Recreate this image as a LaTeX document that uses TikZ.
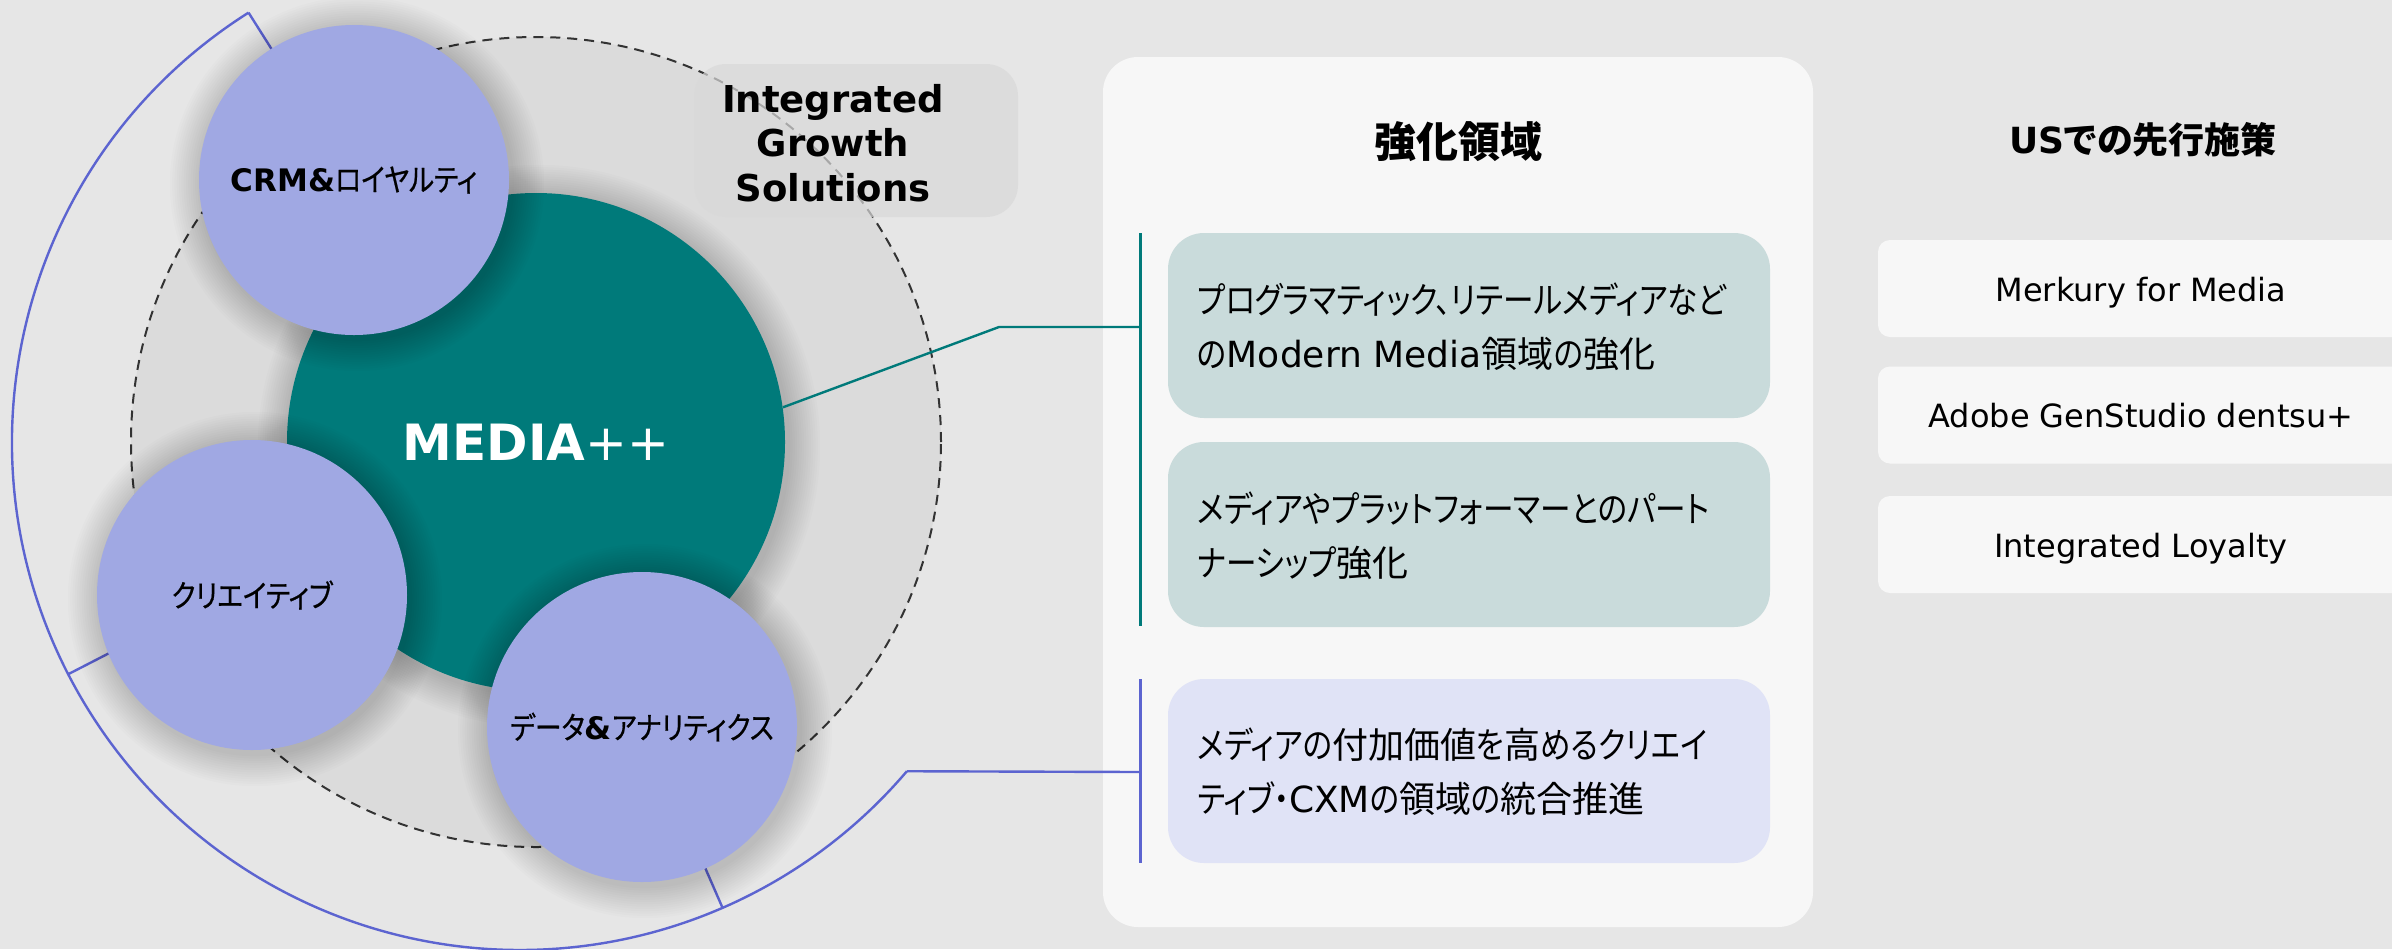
\documentclass[tikz,border=0pt]{standalone}
\usepackage{fontspec}
\usepackage{graphicx}
\setmainfont{DejaVu Sans}
\newfontfamily\jp[RawFeature=+palt]{Noto Sans CJK JP}
\newfontfamily\jk[RawFeature=+palt,FakeStretch=0.85]{Noto Sans CJK JP}
\newfontfamily\jc[RawFeature=+palt,FakeStretch=0.86,FakeBold=0.6]{Noto Sans CJK JP}
\usetikzlibrary{calc}
\definecolor{bgc}{HTML}{E6E6E6}
\definecolor{diskc}{HTML}{DBDBDB}
\definecolor{panelc}{HTML}{F7F7F7}
\definecolor{tboxc}{HTML}{C9DBDB}
\definecolor{bboxc}{HTML}{E0E3F6}
\definecolor{tealc}{HTML}{007A7A}
\definecolor{lavc}{HTML}{A0A8E3}
\definecolor{bluec}{HTML}{5C64D0}
\definecolor{igsc}{HTML}{D9D9D9}
\definecolor{dashc}{HTML}{333333}
\newcommand\softshadow[2]{%
  \foreach \k in {1,...,14}{\fill[black,opacity=0.011] ($(#1)+(1.5pt,-2pt)$) circle[radius={#2+\k*1.15pt}];}}
\tikzset{
  lavnode/.style={circle,fill=lavc,minimum size=155pt,inner sep=0pt,text=black,font=\fontsize{15.5pt}{18pt}\selectfont},
  blueln/.style={draw=bluec,line width=1.2pt},
  tealln/.style={draw=tealc,line width=1.2pt},
  ibox/.style={rounded corners=18pt,minimum width=301pt,inner sep=0pt},
  boxtxt/.style={anchor=west,align=left,inner sep=0pt,font=\fontsize{18pt}{27pt}\selectfont},
  rbox/.style={fill=panelc,rounded corners=6pt,minimum width=263pt,minimum height=48.5pt,inner sep=0pt},
  rtxt/.style={anchor=base,inner sep=0pt,font=\fontsize{16pt}{18pt}\selectfont},
}
\begin{document}
\begin{tikzpicture}[x=0.5pt,y=-0.5pt]
\useasboundingbox (0,0) rectangle (2392,949);
\fill[bgc] (0,0) rectangle (2392,949);
% panel
\node[fill=panelc,rounded corners=17.5pt,minimum width=355pt,minimum height=435pt,inner sep=0pt] (panel) at (1458,492) {};
% disk and dashed ring
\coordinate (c) at (536,442);
\coordinate (oc) at (520,442);
\fill[diskc] (c) circle[radius=202.5pt];
\draw[dashc,line width=1pt,dash pattern=on 5pt off 3.5pt] (c) circle[radius=202.5pt];
% Integrated Growth Solutions
\node[fill=igsc,fill opacity=0.7,rounded corners=16pt,minimum width=162pt,minimum height=76.5pt,inner sep=0pt] (igsbox) at (856,140.5) {};
\node[align=center,inner sep=0pt,font=\bfseries\fontsize{18.5pt}{22.25pt}\selectfont] (igs) at (833,143) {Integrated\\Growth\\Solutions};
% outer arc and ticks
\draw[blueln] ($(oc)+(122.3:254pt)$) arc[start angle=122.3,end angle=319.6,radius=254pt] coordinate (arcend);
\draw[blueln] ($(oc)+(122.3:254pt)$) -- ($(oc)+(122.3:215pt)$);
\draw[blueln] ($(oc)+(207.2:254pt)$) -- ($(oc)+(207.2:215pt)$);
\draw[blueln] ($(oc)+(293.5:254pt)$) -- ($(oc)+(293.5:215pt)$);
% bars
\coordinate (tbt) at (1140,233);
\coordinate (tbb) at (1140,626);
\coordinate (tbar) at (1140,327);
\coordinate (tk) at (999,327);
\coordinate (bbt) at (1140,679);
\coordinate (bbb) at (1140,863);
\coordinate (bbar) at (1140,772);
\draw[tealln,line width=1.5pt] (tbt) -- (tbb);
\draw[blueln,line width=1.5pt] (bbt) -- (bbb);
\draw[blueln] (arcend) -- (bbar);
% teal circle
\softshadow{c}{124.5pt}
\node[circle,fill=tealc,minimum size=249pt,inner sep=0pt,text=white,font=\fontsize{25pt}{30pt}\selectfont] (media) at (536,442) {\raisebox{-3pt}{\bfseries MEDIA{\mdseries ++}}};
\draw[tealln] (media.8) -- (tk) -- (tbar);
% lavender circles
\coordinate (crmc) at (354,180);
\coordinate (crec) at (252,595);
\coordinate (datc) at (642,727);
\softshadow{crmc}{77.5pt}
\softshadow{crec}{77.5pt}
\softshadow{datc}{77.5pt}
\node[lavnode] (crm) at (crmc) {{\bfseries CRM\&}{\jc ロイヤルティ}};
\node[lavnode] (cre) at (crec) {{\jc クリエイティブ}};
\node[lavnode] (dat) at (datc) {{\jc データ}{\bfseries\&}{\jc アナリティクス}};
% middle panel
\node[inner sep=0pt,font=\fontsize{21pt}{24pt}\selectfont] (t1) at (1458,142) {{\jp\bfseries 強化領域}};
\node[ibox,fill=tboxc,minimum height=92.5pt] (b1) at (1469,325.5) {};
\node[ibox,fill=tboxc,minimum height=92.5pt] (b2) at (1469,534.5) {};
\node[ibox,fill=bboxc,minimum height=92pt] (b3) at (1469,771) {};
\node[boxtxt] (b1t) at (1197,327) {{\jk プログラマティック、リテールメディアなど}\\{\jk の}Modern Media{\jp 領域}{\jk の}{\jp 強化}};
\node[boxtxt] (b2t) at (1197,535.5) {{\jk メディアやプラットフォーマーとのパート}\\{\jk ナーシップ}{\jp 強化}};
\node[boxtxt] (b3t) at (1197,772) {{\jk メディアの}{\jp 付加価値}{\jk を}{\jp 高}{\jk めるクリエイ}\\{\jk ティブ・}CXM{\jk の}{\jp 領域}{\jk の}{\jp 統合推進}};
% right column
\node[inner sep=0pt,font=\fontsize{18pt}{23pt}\selectfont] (t2) at (2143,140) {{\bfseries US}{\jp\bfseries での先行施策}};
\node[rbox] (r1) at (2141,288.5) {};
\node[rbox] (r2) at (2141,415) {};
\node[rbox] (r3) at (2141,544.5) {};
\node[rtxt] (r1t) at (2141,301) {Merkury for Media};
\node[rtxt] (r2t) at (2141,427) {Adobe GenStudio dentsu+};
\node[rtxt] (r3t) at (2141,557) {Integrated Loyalty};
\end{tikzpicture}
\end{document}
